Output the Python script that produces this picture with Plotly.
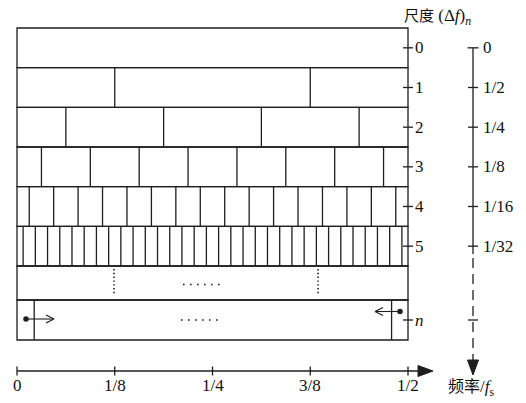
import plotly.graph_objects as go

# ---- data ----
levels = ["0", "1", "2", "3", "4", "5"]
scale_labels = ["0", "1/2", "1/4", "1/8", "1/16", "1/32"]
dividers_per_level = [0, 2, 4, 8, 16, 32]
freq_ticks = [0, 0.125, 0.25, 0.375, 0.5]
freq_labels = ["0", "1/8", "1/4", "3/8", "1/2"]
dotted_row_freqs = [0.124, 0.385]
last_row_edges = [0.022, 0.479]
last_label = "n"

# ---- geometry helpers (pixel measurements -> data units) ----
W, H = 526, 403
F0_PX, F1_PX = 17, 408
FPP = 0.5 / (F1_PX - F0_PX)
TOP_PX = 28
ROW_PX = 238 / 6


def fx(px):
    return (px - F0_PX) * FPP


def ly(py):
    return (py - TOP_PX) / ROW_PX - 0.5


LC = "#1e1e1e"
LW = 1.3
SERIF = "Liberation Serif, Times New Roman, Tinos, DejaVu Serif, serif, Noto Sans CJK SC"
CJK = "Noto Sans CJK SC"
FS = 17

shapes = []


def line(x0, y0, x1, y1, width=LW, dash="solid"):
    shapes.append(dict(type="line", xref="x", yref="y", x0=x0, y0=y0, x1=x1, y1=y1,
                       line=dict(color=LC, width=width, dash=dash)))


def rect(x0, y0, x1, y1):
    shapes.append(dict(type="rect", xref="x", yref="y", x0=x0, y0=y0, x1=x1, y1=y1,
                       line=dict(color=LC, width=LW), fillcolor="rgba(0,0,0,0)"))


def tri(points):
    path = "M " + " L ".join(f"{a},{b}" for a, b in points) + " Z"
    shapes.append(dict(type="path", xref="x", yref="y", path=path,
                       line=dict(color=LC, width=1), fillcolor=LC))


annotations = []


def text(x, y, t, xanchor="left", size=FS):
    annotations.append(dict(x=x, y=y, xref="x", yref="y", text=t, showarrow=False,
                            xanchor=xanchor, yanchor="middle",
                            font=dict(family=SERIF, size=size, color="#111")))


def cjk(s, size=15):
    return f"<span style='font-family:{CJK};font-size:{size}px'>{s}</span>"


# rows 0..5
n_levels = len(levels)
for i in range(n_levels):
    rect(0, i - 0.5, 0.5, i + 0.5)
    k = dividers_per_level[i]
    if k:
        step = 0.5 / k
        for j in range(k):
            xb = step / 2 + j * step
            line(xb, i - 0.5, xb, i + 0.5)

# dotted row
dot_top = n_levels - 0.5
dot_bot = ly(300)
rect(0, dot_top, 0.5, dot_bot)
for f in dotted_row_freqs:
    line(f, ly(269), f, ly(295), width=1.6, dash="1.4px,2.4px")
line(fx(183), ly(284.5), fx(220), ly(284.5), width=1.6, dash="1.6px,5.4px")

# last row n
n_bot = ly(340)
n_mid = (dot_bot + n_bot) / 2
rect(0, dot_bot, 0.5, n_bot)
for f in last_row_edges:
    line(f, dot_bot, f, n_bot)
line(fx(181), n_mid, fx(218), n_mid, width=1.6, dash="1.6px,5.4px")

# arrows in row n
yl = ly(319)
line(fx(26), yl, fx(53), yl, width=1.1)
line(fx(54), yl, fx(46), ly(315), width=1.1)
line(fx(54), yl, fx(46), ly(323), width=1.1)
yr = ly(311.5)
line(fx(400), yr, fx(376), yr, width=1.1)
line(fx(375), yr, fx(383), ly(307.5), width=1.1)
line(fx(375), yr, fx(383), ly(315.5), width=1.1)

# right level ticks + labels
row_centers = list(range(n_levels)) + [n_mid]
row_texts = levels + [f"<i>{last_label}</i>"]
for yc, t in zip(row_centers, row_texts):
    line(fx(403), yc, fx(413), yc)
    text(fx(413), yc, t)

# scale axis
sx = fx(473)
line(sx, 0, sx, ly(254))
line(sx, ly(258), sx, ly(361), dash="10px,6px")
for i, t in enumerate(scale_labels):
    if i == 0:
        line(fx(467.5), 0, fx(478.5), 0)
    else:
        line(fx(468), i, fx(478), i)
    text(fx(480.5), i, t)
line(fx(468), n_mid, fx(478), n_mid)
tri([(fx(467.5), ly(360)), (fx(478.5), ly(360)), (sx, ly(375))])

# header
text(fx(402), ly(15.5), cjk("尺度") + " (Δ<i>f</i>)<sub><i>n</i></sub>", size=17)

# frequency axis
ay = ly(371)
line(0, ay, fx(420), ay)
for f, t in zip(freq_ticks, freq_labels):
    line(f, ly(366.5), f, ly(375.5))
    text(f, ly(385), t, xanchor="center")
tri([(fx(418), ly(365.5)), (fx(418), ly(376.5)), (fx(433), ay)])
text(fx(446), ly(386), cjk("频率", 16) + "/<i>f</i><sub>s</sub>", size=17)

fig = go.Figure()
fig.add_trace(go.Scatter(x=[fx(26), fx(400)], y=[yl, yr], mode="markers",
                         marker=dict(color=LC, size=5.5), hoverinfo="skip",
                         showlegend=False))

fig.update_layout(
    width=W, height=H, margin=dict(l=0, r=0, t=0, b=0),
    paper_bgcolor="white", plot_bgcolor="white",
    xaxis=dict(range=[fx(0), fx(W)], visible=False, fixedrange=True),
    yaxis=dict(range=[ly(H), ly(0)], visible=False, fixedrange=True),
    shapes=shapes, annotations=annotations, showlegend=False,
    hovermode=False,
)

fig.write_html("out.html",
               config={"displayModeBar": False, "staticPlot": True},
               post_script="document.body.style.margin='0px';"
                           "document.body.style.overflow='hidden';")
